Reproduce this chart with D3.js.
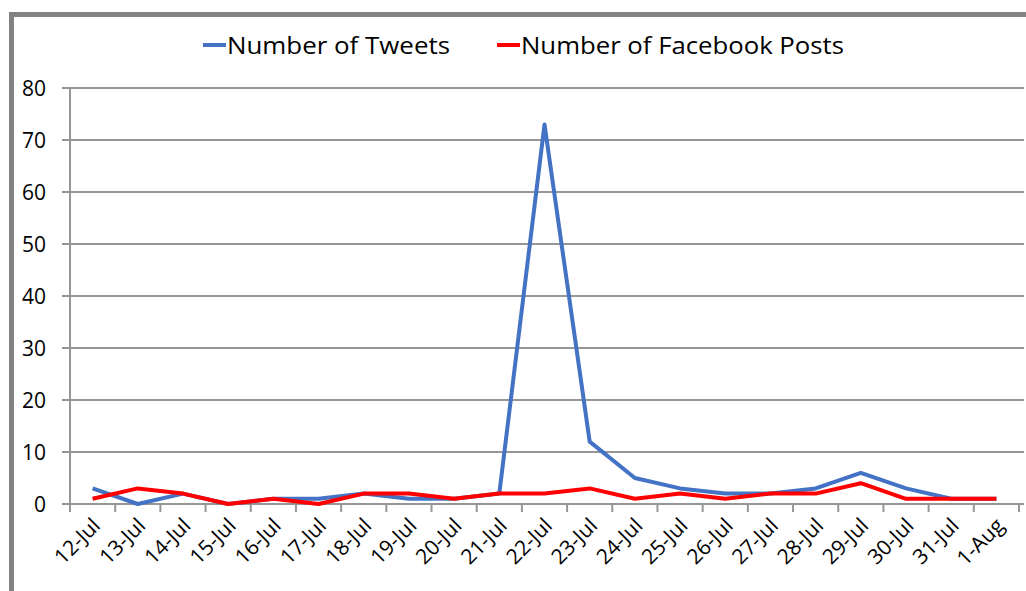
<!DOCTYPE html>
<html>
<head>
<meta charset="utf-8">
<script src="https://cdn.jsdelivr.net/npm/d3@7"></script>
<style>
  body { margin: 0; background: white; }
  text { font-family: "Open Sans", "Liberation Sans", sans-serif; fill: #000; }
</style>
</head>
<body>
<script>
// Tweets vs Facebook posts per day

let days = ["12-Jul", "13-Jul", "14-Jul", "15-Jul", "16-Jul", "17-Jul", "18-Jul",
  "19-Jul", "20-Jul", "21-Jul", "22-Jul", "23-Jul", "24-Jul", "25-Jul", "26-Jul",
  "27-Jul", "28-Jul", "29-Jul", "30-Jul", "31-Jul", "1-Aug"];
let tweets = [3, 0, 2, 0, 1, 1, 2, 1, 1, 2, 73, 12, 5, 3, 2, 2, 3, 6, 3, 1, 1];
let posts = [1, 3, 2, 0, 1, 0, 2, 2, 1, 2, 2, 3, 1, 2, 1, 2, 2, 4, 1, 1, 1];
let yTicks = [0, 10, 20, 30, 40, 50, 60, 70, 80];

let seriesNames = ["Number of Tweets", "Number of Facebook Posts"];
let seriesColors = ["#4472c4", "#ff0000"];

let svg = d3.select("body")
  .append("svg")
  .attr("width", 1026)
  .attr("height", 591);

// chart area border (cropped at right/bottom)
svg.append("rect")
  .attr("x", 11.5)
  .attr("y", 14.5)
  .attr("width", 1100)
  .attr("height", 700)
  .style("fill", "white")
  .style("stroke", "#828282")
  .style("stroke-width", 5);

let x = d3.scaleBand().domain(days).range([70, 1019]);
let y = d3.scaleLinear().domain([0, 80]).range([504, 88]);

// gridlines
svg.append("g")
  .selectAll("line")
  .data(yTicks)
  .join("line")
  .attr("x1", 62)
  .attr("x2", 1024)
  .attr("y1", d => y(d))
  .attr("y2", d => y(d))
  .style("stroke", "#969696")
  .style("stroke-width", 2);

// y axis line
svg.append("line")
  .attr("x1", 70).attr("x2", 70)
  .attr("y1", y(80)).attr("y2", y(0))
  .style("stroke", "#969696")
  .style("stroke-width", 2);

// y labels
svg.append("g")
  .selectAll("text")
  .data(yTicks)
  .join("text")
  .attr("x", 46)
  .attr("y", d => y(d) + 7.5)
  .attr("text-anchor", "end")
  .style("font-size", "21px")
  .text(d => d);

// x tick marks between categories
let edges = days.map(d => x(d)).concat([x.range()[1]]);
svg.append("g")
  .selectAll("line")
  .data(edges)
  .join("line")
  .attr("x1", d => d).attr("x2", d => d)
  .attr("y1", 504).attr("y2", 512)
  .style("stroke", "#969696")
  .style("stroke-width", 2);

// x labels
svg.append("g")
  .selectAll("text")
  .data(days)
  .join("text")
  .attr("text-anchor", "end")
  .attr("transform", d => `translate(${x(d) + x.bandwidth() / 2 + 9}, ${527}) rotate(-45)`)
  .style("font-size", "21px")
  .text(d => d);

// lines
let line = d3.line()
  .x((d, i) => x(days[i]) + x.bandwidth() / 2)
  .y(d => y(d));

svg.append("path")
  .datum(tweets)
  .attr("d", line)
  .style("fill", "none")
  .style("stroke", seriesColors[0])
  .style("stroke-width", 4)
  .style("stroke-linejoin", "round");

svg.append("path")
  .datum(posts)
  .attr("d", line)
  .style("fill", "none")
  .style("stroke", seriesColors[1])
  .style("stroke-width", 4)
  .style("stroke-linejoin", "round");

// legend
let legendX = [203, 497];
let legendW = [223, 323];
seriesNames.forEach((name, i) => {
  svg.append("line")
    .attr("x1", legendX[i]).attr("x2", legendX[i] + 23)
    .attr("y1", 45).attr("y2", 45)
    .style("stroke", seriesColors[i])
    .style("stroke-width", 4);
  svg.append("text")
    .attr("x", legendX[i] + 24)
    .attr("y", 54)
    .attr("textLength", legendW[i])
    .attr("lengthAdjust", "spacingAndGlyphs")
    .style("font-size", "24px")
    .text(name);
});
</script>
</body>
</html>
